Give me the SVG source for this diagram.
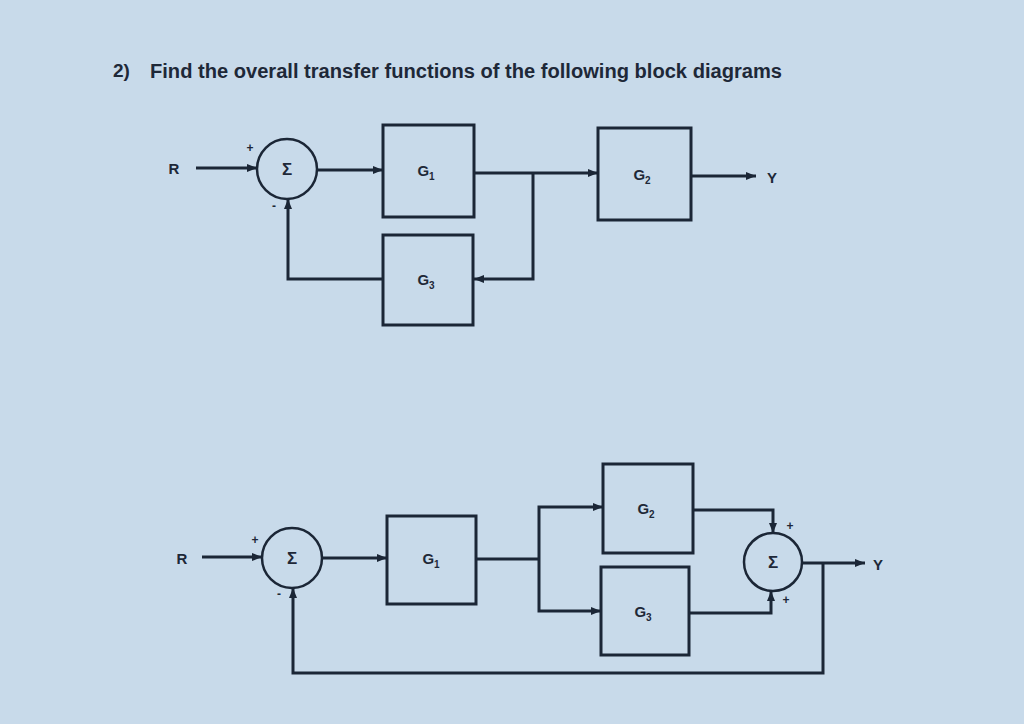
<svg xmlns="http://www.w3.org/2000/svg" width="1024" height="724" viewBox="0 0 1024 724">
<defs>
<marker id="ah" viewBox="0 0 10 10" refX="10" refY="5" markerWidth="10" markerHeight="10" markerUnits="userSpaceOnUse" orient="auto">
<path d="M0,1 L10,5 L0,9 Z" fill="#1b2636"/>
</marker>
<style>
.bg{fill:#c8daea}
.blk{fill:none;stroke:#1b2636;stroke-width:3}
.sum{fill:none;stroke:#1b2636;stroke-width:2.5}
.w{fill:none;stroke:#1b2636;stroke-width:3}
.wa{fill:none;stroke:#1b2636;stroke-width:3;marker-end:url(#ah)}
.t{font-family:"Liberation Sans",Arial,sans-serif;font-weight:bold;fill:#1e2838}
.lbl{font-size:15px;text-anchor:middle}
.sg{font-size:17px;text-anchor:middle}
.sn{font-size:12px;text-anchor:middle}
.sub{font-size:10px}
</style>
</defs>
<rect class="bg" x="0" y="0" width="1024" height="724"/>
<text class="t" x="113" y="77" font-size="19">2)</text>
<text class="t" x="150" y="78" font-size="20" textLength="632" lengthAdjust="spacingAndGlyphs">Find the overall transfer functions of the following block diagrams</text>

<!-- Diagram 1 -->
<g id="d1-R"><text class="t lbl" x="174" y="174">R</text></g>
<g id="d1-sum">
<circle class="sum" cx="287" cy="169" r="30"/>
<text class="t sg" x="287" y="175">Σ</text>
<text class="t sn" x="250" y="152">+</text>
<text class="t sn" x="274" y="210">-</text>
</g>
<g id="d1-G1"><rect class="blk" x="383" y="125" width="91" height="92"/><text class="t lbl" x="426" y="176">G<tspan class="sub" dy="4">1</tspan></text></g>
<g id="d1-G3"><rect class="blk" x="383" y="235" width="90" height="90"/><text class="t lbl" x="426" y="285">G<tspan class="sub" dy="4">3</tspan></text></g>
<g id="d1-G2"><rect class="blk" x="598" y="128" width="93" height="92"/><text class="t lbl" x="642" y="180">G<tspan class="sub" dy="4">2</tspan></text></g>
<g id="d1-Y"><text class="t lbl" x="772" y="183">Y</text></g>
<g id="d1-connectors">
<line class="wa" x1="196" y1="168" x2="257" y2="168"/>
<line class="wa" x1="317" y1="170" x2="383" y2="170"/>
<line class="wa" x1="474" y1="173" x2="598" y2="173"/>
<polyline class="wa" points="533,173 533,279 474,279"/>
<polyline class="wa" points="383,279 288,279 288,199"/>
<line class="wa" x1="691" y1="176" x2="756" y2="176"/>
</g>

<!-- Diagram 2 -->
<g id="d2-R"><text class="t lbl" x="182" y="564">R</text></g>
<g id="d2-sum1">
<circle class="sum" cx="292" cy="558" r="30"/>
<text class="t sg" x="292" y="564">Σ</text>
<text class="t sn" x="255" y="544">+</text>
<text class="t sn" x="279" y="598">-</text>
</g>
<g id="d2-G1"><rect class="blk" x="387" y="516" width="89" height="88"/><text class="t lbl" x="431" y="564">G<tspan class="sub" dy="4">1</tspan></text></g>
<g id="d2-G2"><rect class="blk" x="603" y="464" width="90" height="89"/><text class="t lbl" x="646" y="514">G<tspan class="sub" dy="4">2</tspan></text></g>
<g id="d2-G3"><rect class="blk" x="601" y="567" width="88" height="88"/><text class="t lbl" x="643" y="617">G<tspan class="sub" dy="4">3</tspan></text></g>
<g id="d2-sum2">
<circle class="sum" cx="773" cy="562" r="29"/>
<text class="t sg" x="773" y="568">Σ</text>
<text class="t sn" x="790" y="530">+</text>
<text class="t sn" x="786" y="604">+</text>
</g>
<g id="d2-Y"><text class="t lbl" x="878" y="570">Y</text></g>
<g id="d2-connectors">
<line class="wa" x1="202" y1="557" x2="262" y2="557"/>
<line class="wa" x1="322" y1="558" x2="387" y2="558"/>
<line class="w" x1="476" y1="559" x2="539" y2="559"/>
<polyline class="wa" points="539,559 539,507 603,507"/>
<polyline class="wa" points="539,559 539,611 601,611"/>
<polyline class="wa" points="693,510 773,510 773,533"/>
<polyline class="wa" points="689,613 771,613 771,591"/>
<line class="wa" x1="802" y1="563" x2="865" y2="563"/>
<polyline class="wa" points="823,563 823,673 293,673 293,588"/>
</g>
</svg>
